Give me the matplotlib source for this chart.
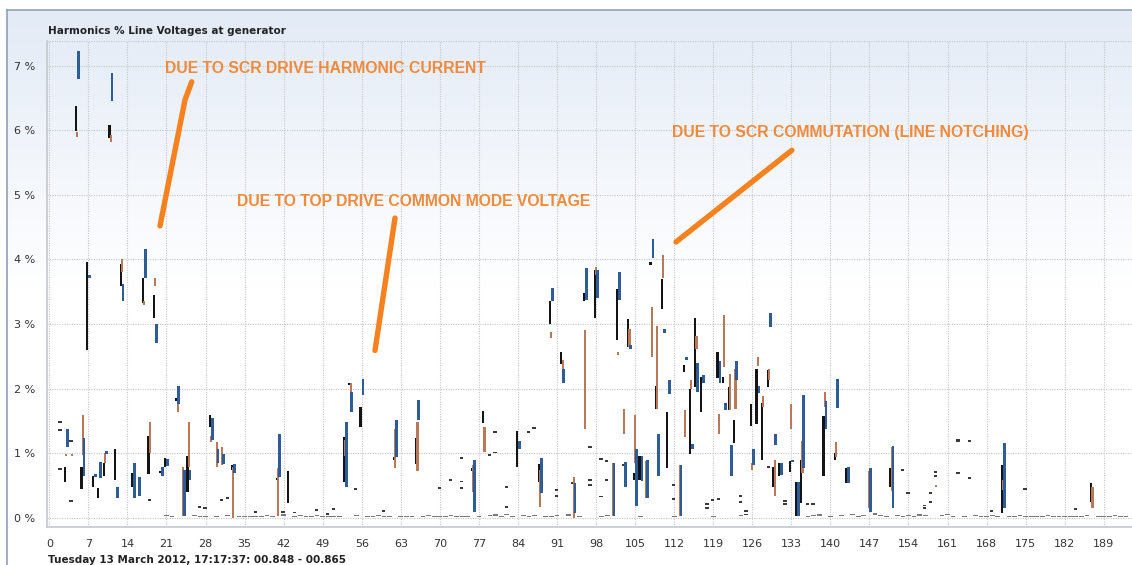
import matplotlib
matplotlib.use("Agg")
import matplotlib.pyplot as plt
from matplotlib.lines import Line2D
import numpy as np

# ---------------- data (harmonic order, % of fundamental) ----------------
black_h  = [3, 5, 6, 7, 8, 9, 10, 11, 12, 13, 15, 17, 18, 19, 20, 21, 23, 25, 29, 33,
            41, 43, 53, 54, 56, 62, 66, 76, 78, 84, 88, 90, 92, 96, 98, 102, 104, 105,
            106, 108, 109, 110, 111, 114, 115, 116, 117, 120, 121, 122, 123, 126, 127,
            128, 129, 130, 131, 133, 134, 135, 139, 141, 143, 151, 171, 187]
black_lo = [0.55, 5.99, 0.44, 2.60, 0.47, 0.31, 0.64, 5.88, 0.58, 3.59, 0.48, 3.33, 0.68, 3.10, 0.69, 0.78, 1.80, 0.40, 1.41, 0.74,
            0.58, 0.23, 0.56, 2.05, 1.40, 0.90, 0.83, 0.73, 1.46, 0.79, 0.56, 3.00, 2.38, 3.35, 3.09, 2.75, 2.64, 0.59,
            0.58, 3.91, 1.69, 3.23, 0.77, 2.26, 0.99, 2.02, 1.64, 2.16, 2.08, 1.67, 1.16, 1.42, 1.45,
            0.90, 2.03, 0.48, 0.65, 0.71, 0.03, 0.23, 0.64, 0.90, 0.53, 0.47, 0.07, 0.25]
black_hi = [0.79, 6.38, 0.78, 3.96, 0.64, 0.46, 0.85, 6.08, 1.07, 3.93, 0.69, 3.72, 1.27, 3.45, 0.73, 0.93, 1.85, 0.96, 1.59, 0.81,
            0.62, 0.72, 1.25, 2.09, 1.72, 0.94, 1.23, 0.77, 1.66, 1.35, 0.83, 3.36, 2.57, 3.48, 3.84, 3.54, 3.07, 0.69,
            0.96, 3.96, 2.04, 3.69, 1.64, 2.36, 1.99, 3.09, 2.18, 2.57, 2.18, 2.02, 1.52, 1.76, 2.30,
            1.78, 2.28, 0.78, 0.84, 0.88, 0.56, 0.90, 1.58, 1.01, 0.77, 0.77, 0.81, 0.54]

brown_h  = [3, 4, 5, 6, 10, 11, 13, 16, 17, 18, 19, 23, 24, 25, 29, 30, 31, 33, 41, 53, 54, 62, 66,
            76, 78, 88, 90, 92, 94, 96, 98, 101, 102, 103, 104, 105, 107, 108, 109, 110, 111,
            113, 114, 115, 116, 120, 121, 122, 123, 126, 127, 128, 129, 130, 133, 135, 139,
            141, 147, 151, 159, 171, 187]
brown_lo = [0.95, 0.95, 5.90, 0.97, 0.85, 5.82, 3.81, 0.34, 3.30, 1.00, 3.59, 1.63, 0.03, 0.79, 1.18, 0.79, 0.82, 0.00, 0.02, 0.95, 1.88, 0.77, 0.72,
            0.40, 1.02, 0.17, 2.79, 2.24, 0.00, 1.38, 3.76, 0.03, 2.52, 1.30, 2.65, 0.84, 0.30, 2.49, 1.69, 3.71, 1.92,
            0.03, 1.25, 1.99, 2.62, 1.30, 2.33, 1.67, 1.69, 0.74, 2.35, 1.72, 2.13, 0.34, 1.38, 0.69, 1.72,
            0.94, 0.15, 0.42, 0.47, 0.43, 0.15]
brown_hi = [0.99, 0.99, 5.98, 1.59, 1.00, 5.93, 4.00, 0.63, 3.36, 1.49, 3.72, 1.80, 0.78, 1.49, 1.27, 1.18, 1.09, 0.79, 0.77, 1.20, 2.08, 1.37, 1.49,
            0.82, 1.41, 0.74, 2.87, 2.44, 0.63, 2.91, 3.88, 0.85, 2.57, 1.68, 2.92, 1.59, 0.88, 3.27, 2.97, 4.07, 1.98,
            0.82, 1.67, 2.14, 2.81, 1.61, 3.14, 2.23, 2.31, 0.84, 2.49, 1.88, 2.31, 0.89, 1.76, 1.19, 1.95,
            1.18, 0.73, 1.09, 0.51, 0.58, 0.48]

blue_h  = [3, 5, 6, 7, 8, 9, 10, 11, 12, 13, 15, 16, 17, 19, 20, 21, 23, 24, 25, 29, 30, 31, 33,
           41, 53, 54, 56, 62, 66, 76, 84, 88, 90, 92, 94, 96, 98, 101, 102, 103, 104, 105,
           106, 107, 108, 109, 110, 111, 113, 114, 115, 116, 117, 120, 121, 122, 123, 126,
           127, 129, 130, 131, 133, 134, 135, 139, 141, 143, 147, 151, 171]
blue_lo = [1.10, 6.79, 0.64, 3.72, 0.63, 0.61, 0.99, 6.46, 0.30, 3.35, 0.30, 0.34, 3.72, 2.70, 0.64, 0.80, 1.76, 0.02, 0.59, 1.20, 0.84, 0.83, 0.70,
           0.63, 0.47, 1.63, 1.90, 0.94, 1.52, 0.09, 1.07, 0.39, 3.36, 2.08, 0.07, 3.37, 3.40, 0.03, 3.37, 0.48, 2.62, 0.18,
           0.57, 0.30, 4.02, 0.65, 2.86, 1.92, 0.03, 2.45, 1.07, 1.94, 2.09, 2.08, 1.67, 0.65, 2.14, 0.82,
           1.93, 2.95, 1.13, 0.66, 0.86, 0.03, 0.77, 1.38, 1.70, 0.53, 0.09, 0.15, 0.15]
blue_hi = [1.37, 7.23, 1.23, 3.76, 0.67, 0.86, 1.03, 6.89, 0.48, 3.62, 0.84, 0.63, 4.16, 3.00, 0.78, 0.91, 2.04, 0.74, 0.74, 1.54, 1.07, 0.99, 0.83,
           1.30, 1.49, 1.94, 2.15, 1.51, 1.83, 0.89, 1.19, 0.92, 3.55, 2.31, 0.54, 3.86, 3.84, 0.85, 3.81, 0.87, 2.67, 1.06,
           0.96, 0.89, 4.31, 1.30, 2.92, 2.13, 0.82, 2.49, 1.14, 2.39, 2.21, 2.43, 1.78, 1.13, 2.42, 1.07,
           2.04, 3.17, 1.30, 0.85, 0.90, 0.56, 1.90, 1.80, 2.15, 0.78, 0.77, 1.11, 1.16]

# small isolated readings (harmonic, value)
dash_h = [2, 2, 2, 4, 4, 18, 27, 28, 31, 32, 37, 42, 44, 48, 50, 51, 55, 60, 70, 72, 74, 74, 74,
          79, 80, 80, 82, 82, 86, 87, 91, 91, 94, 97, 97, 97, 99, 99, 100, 100, 103, 112, 112,
          118, 118, 119, 120, 124, 124, 125, 125, 129, 132, 132, 136, 137, 153, 154, 157, 157,
          158, 158, 159, 159, 163, 163, 165, 163, 165, 169, 175, 184]
dash_v = [1.48, 1.36, 0.75, 1.19, 0.26, 0.28, 0.16, 0.15, 0.27, 0.31, 0.09, 0.09, 0.08, 0.12, 0.06, 0.14, 0.44, 0.11, 0.46, 0.58, 0.56, 0.46, 0.93,
          0.97, 1.01, 1.33, 0.48, 0.17, 1.33, 1.39, 0.43, 0.34, 0.54, 1.09, 0.58, 0.51, 0.33, 0.91, 0.88, 0.58, 0.82, 0.51, 0.29,
          0.15, 0.21, 0.27, 0.29, 0.34, 0.24, 0.10, 0.05, 0.79, 0.26, 0.21, 0.21, 0.21, 0.74, 0.38, 0.19, 0.15,
          0.38, 0.24, 0.71, 0.65, 1.19, 1.21, 1.19, 0.69, 0.61, 0.11, 0.44, 0.13]

# near-zero readings along the baseline
base_h = [21, 22, 26, 27, 28, 30, 32, 34, 35, 36, 37, 38, 39, 40, 42, 44, 45, 46, 47, 48, 49, 50,
          51, 52, 55, 57, 58, 59, 60, 61, 63, 64, 65, 67, 68, 69, 70, 71, 72, 73, 74, 75, 77, 79,
          80, 81, 82, 83, 85, 86, 87, 89, 90, 91, 93, 95, 99, 100, 106, 112, 119, 124, 136, 137,
          138, 140, 142, 144, 145, 146, 148, 149, 150, 152, 153, 154, 155, 156, 157, 160, 161, 162,
          164, 166, 167, 168, 169, 170, 172, 173, 174, 175, 176, 177, 178, 179, 180, 181, 182, 183,
          184, 185, 186, 188, 189, 190, 191, 192, 193]
base_v = [0.03, 0.02, 0.03, 0.02, 0.02, 0.02, 0.03, 0.02, 0.02, 0.02, 0.02, 0.02, 0.03, 0.02, 0.04, 0.02, 0.03, 0.02, 0.02, 0.03, 0.02, 0.02,
          0.02, 0.02, 0.03, 0.02, 0.02, 0.03, 0.02, 0.02, 0.02, 0.02, 0.02, 0.02, 0.03, 0.02, 0.02, 0.02, 0.03, 0.02, 0.02, 0.02, 0.02, 0.03,
          0.04, 0.02, 0.05, 0.02, 0.03, 0.02, 0.03, 0.02, 0.02, 0.03, 0.04, 0.02, 0.02, 0.03, 0.02, 0.02, 0.02, 0.03, 0.02, 0.03,
          0.04, 0.02, 0.03, 0.05, 0.02, 0.03, 0.06, 0.03, 0.02, 0.03, 0.02, 0.03, 0.02, 0.04, 0.03, 0.03, 0.05, 0.02,
          0.02, 0.03, 0.02, 0.02, 0.03, 0.02, 0.02, 0.02, 0.03, 0.02, 0.02, 0.02, 0.02, 0.03, 0.02, 0.02, 0.02, 0.02,
          0.02, 0.02, 0.03, 0.02, 0.02, 0.02, 0.03, 0.02, 0.02]

x_ticks = list(range(0, 190, 7))
y_ticks = [0, 1, 2, 3, 4, 5, 6, 7]
y_labels = ["0 %", "1 %", "2 %", "3 %", "4 %", "5 %", "6 %", "7 %"]

notes = ["DUE TO SCR DRIVE HARMONIC CURRENT",
         "DUE TO TOP DRIVE COMMON MODE VOLTAGE",
         "DUE TO SCR COMMUTATION (LINE NOTCHING)"]

# ---------------- figure ----------------
W, H = 1132, 565
fig = plt.figure(figsize=(W / 100, H / 100), dpi=100)

# panel background with soft blue gradient
bg = fig.add_axes([7 / W, 0, 1 - 7 / W, 1 - 10 / H], zorder=-10)
bg.set_axis_off()
t = np.linspace(0, 1, 300)[:, None]
top = np.array([0.89, 0.92, 0.965])
mix = np.clip(t / 0.5, 0, 1)[..., None]
img = top * (1 - mix) + np.ones(3) * mix
bg.imshow(img, aspect="auto", extent=[0, 1, 0, 1], origin="upper")
bg.set_xlim(0, 1); bg.set_ylim(0, 1)
fig.add_artist(Line2D([7 / W, 7 / W], [0, 1 - 10 / H], transform=fig.transFigure, color="#8f9fb5", lw=1.2))
fig.add_artist(Line2D([7 / W, 1], [1 - 10 / H, 1 - 10 / H], transform=fig.transFigure, color="#8f9fb5", lw=1.2))

ax = fig.add_axes([46.7 / W, 38.3 / H, 1 - 46.7 / W, (526.7 - 40.7) / H])
ax.set_facecolor("none")
ax.set_xlim(-0.47, 194.07)
ax.set_ylim(-0.139, 7.387)

ax.set_xticks(x_ticks)
ax.set_yticks(y_ticks)
ax.set_yticklabels(y_labels)
ax.tick_params(length=0, labelsize=8, colors="#333333", pad=8)
ax.tick_params(axis="x", pad=9)
ax.grid(True, color="#c6c6c6", linestyle=(0, (1, 1.2)), linewidth=0.8)
ax.set_axisbelow(True)
for s in ["top", "right"]:
    ax.spines[s].set_visible(False)
for s in ["left", "bottom"]:
    ax.spines[s].set_color("#c4c8ce")
    ax.spines[s].set_linewidth(1.2)
ax.axhline(7.387, color="#c6c6c6", linestyle=(0, (1, 1.2)), linewidth=0.8)


def bars(hs, lo, hi, off, w, color, z):
    lo = np.asarray(lo, float)
    hi = np.asarray(hi, float)
    ht = np.maximum(hi - lo, 0.035)
    ax.bar(np.asarray(hs) + off, ht, bottom=lo, width=w, color=color, linewidth=0, zorder=z)


bars(black_h, black_lo, black_hi, -0.22, 0.40, "#141414", 3)
bars(brown_h, brown_lo, brown_hi, 0.0, 0.38, "#b97858", 4)
bars(blue_h, blue_lo, blue_hi, 0.22, 0.50, "#2d5c98", 5)

dv = np.asarray(dash_v)
ax.bar(np.asarray(dash_h) - 0.1, 0.028, bottom=dv - 0.014, width=0.6, color="#3a3a3a", linewidth=0, zorder=3)
bv = np.asarray(base_v)
ax.bar(np.asarray(base_h), 0.022, bottom=bv - 0.011, width=0.85, color="#7a7a7a", linewidth=0, zorder=2)

# annotations
txt_col = "#f08a3c"
line_col = "#f5821f"
kw = dict(color=txt_col, fontsize=11.3, fontweight="bold", family="Liberation Sans",
          va="center", ha="left", clip_on=False, zorder=10)
ax.text(20.77, 6.96, notes[0], **kw)
ax.text(33.68, 4.89, notes[1], **kw)
ax.text(111.6, 5.96, notes[2], **kw)
lkw = dict(color=line_col, lw=3.9, solid_capstyle="round", zorder=10)
ax.plot([25.52, 24.32, 19.84], [6.75, 6.47, 4.52], **lkw)
ax.plot([61.96, 58.38], [4.64, 2.59], **lkw)
ax.plot([133.1, 112.33], [5.69, 4.27], **lkw)

fig.text(48 / W, 1 - 31 / H, "Harmonics % Line Voltages at generator", fontsize=7.5,
         fontweight="bold", color="#222222", va="center", ha="left")
fig.text(48 / W, 1 - 560 / H, "Tuesday 13 March 2012, 17:17:37: 00.848 - 00.865", fontsize=7.5,
         fontweight="bold", color="#222222", va="center", ha="left")

fig.savefig("out.png", dpi=100)
